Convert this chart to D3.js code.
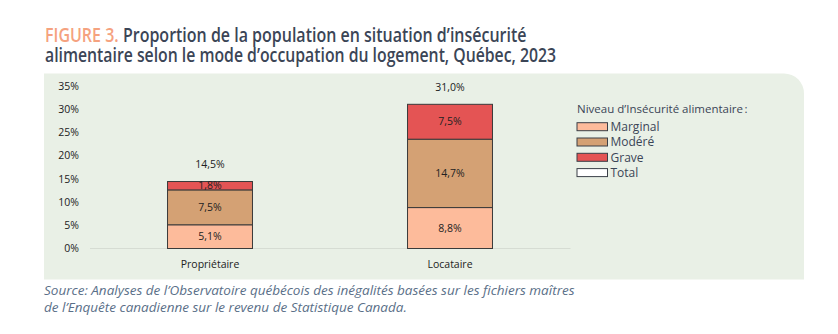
<!DOCTYPE html>
<html lang="fr">
<head>
<meta charset="utf-8">
<script src="https://cdn.jsdelivr.net/npm/d3@7"></script>
<style>
  html, body { margin: 0; padding: 0; background: #ffffff; }
  svg { display: block; }
</style>
</head>
<body>
<svg id="chart" width="838" height="334"></svg>
<script>
// Mode d'occupation du logement
const categories = ["Propriétaire", "Locataire"];
// Proportions (%) par niveau d'insécurité alimentaire
const marginal = [5.1, 8.8];
const modere = [7.5, 14.7];
const grave = [1.8, 7.5];
const total = [14.5, 31.0];
const yTicks = [0, 5, 10, 15, 20, 25, 30, 35];

const seriesNames = ["Marginal", "Modéré", "Grave"];
const seriesValues = [marginal, modere, grave];
const seriesColors = ["#FDBB9B", "#D4A174", "#E45454"];

const svg = d3.select("#chart");
const fmt = v => d3.format(".1f")(v).replace(".", ",") + "%";

// Panel background with rounded top-right corner
const px0 = 44, py0 = 73.5, px1 = 804, py1 = 279.5, r = 20;
svg.append("path")
  .attr("d", `M${px0},${py0} H${px1 - r} A${r},${r} 0 0 1 ${px1},${py0 + r} V${py1} H${px0} Z`)
  .attr("fill", "#E9F0E6");

// Horizontal fit of a text line to a given width
function fitLine(sel, x, y, width) {
  const w = sel.node().getComputedTextLength();
  sel.attr("transform", `translate(${x},${y}) scale(${width / w},1)`);
  return width / w;
}
const titleFont = "'Open Sans', 'Noto Sans', sans-serif";
const titleText = (txt, color) => svg.append("text")
  .attr("font-family", titleFont).attr("font-size", 19).attr("font-weight", 600)
  .attr("fill", color).text(txt);

// Title line 1: coloured figure number followed by the heading
const tA = titleText("FIGURE 3.", "#F5A27F");
const tB = titleText("\u00A0Proportion de la population en situation d\u2019insécurité", "#3B4556");
const wA = tA.node().getComputedTextLength();
const wB = tB.node().getComputedTextLength();
const k1 = 482 / (wA + wB);
tA.attr("transform", `translate(45,41.5) scale(${k1},1)`);
tB.attr("transform", `translate(${45 + wA * k1},41.5) scale(${k1},1)`);
// Title line 2
const t2 = titleText("alimentaire selon le mode d\u2019occupation du logement, Québec, 2023", "#3B4556");
fitLine(t2, 45, 61.5, 511.5);

// Scales
const x = d3.scaleBand().domain(categories).range([90, 570]).paddingInner(0.646).paddingOuter(0.323);
const y = d3.scaleLinear().domain([0, 35]).range([248.5, 85.7]);

const axisFont = "'Open Sans', 'Noto Sans', sans-serif";

// Y axis labels
const yAxis = svg.append("g").attr("transform", "translate(79,0)")
  .call(d3.axisLeft(y).tickValues(yTicks).tickSize(0).tickPadding(0).tickFormat(d => d + "%"));
yAxis.select(".domain").remove();
yAxis.selectAll("text").attr("font-family", axisFont).attr("font-size", 10.5).attr("fill", "#222");

// Baseline
svg.append("line")
  .attr("x1", 90).attr("x2", 570.5)
  .attr("y1", y(0)).attr("y2", y(0))
  .attr("stroke", "#D6DCD3").attr("stroke-width", 1);

// X axis labels
const xAxis = svg.append("g").attr("transform", `translate(0,${y(0)})`)
  .call(d3.axisBottom(x).tickSize(0).tickPadding(12));
xAxis.select(".domain").remove();
xAxis.selectAll("text").attr("font-family", axisFont).attr("font-size", 10.5).attr("fill", "#222");

// Stacked data
const rows = categories.map((c, i) => {
  const o = { cat: c };
  seriesNames.forEach((s, k) => o[s] = seriesValues[k][i]);
  return o;
});
const stacked = d3.stack().keys(seriesNames)(rows);

const layers = svg.append("g").selectAll("g").data(stacked).join("g")
  .attr("fill", (d, i) => seriesColors[i]);
layers.selectAll("rect").data(d => d).join("rect")
  .attr("x", d => x(d.data.cat))
  .attr("width", x.bandwidth())
  .attr("y", d => y(d[1]))
  .attr("height", d => y(d[0]) - y(d[1]))
  .attr("stroke", "#3A3A3A").attr("stroke-width", 1);

// Segment labels
layers.selectAll("text").data(d => d).join("text")
  .attr("x", d => x(d.data.cat) + x.bandwidth() / 2)
  .attr("y", d => (y(d[0]) + y(d[1])) / 2)
  .attr("dy", "0.35em")
  .attr("text-anchor", "middle")
  .attr("font-family", axisFont).attr("font-size", 10.5).attr("fill", "#222")
  .text(d => fmt(d[1] - d[0]));

// Total labels
svg.append("g").selectAll("text").data(categories).join("text")
  .attr("x", c => x(c) + x.bandwidth() / 2)
  .attr("y", (c, i) => y(total[i]) - 16.5)
  .attr("dy", "0.35em")
  .attr("text-anchor", "middle")
  .attr("font-family", axisFont).attr("font-size", 10.5).attr("fill", "#222")
  .text((c, i) => fmt(total[i]));

// Legend
const legendFont = "'Open Sans', 'Noto Sans', sans-serif";
const lg = svg.append("g").attr("transform", "translate(577,0)");
lg.append("text")
  .attr("x", 0).attr("y", 109).attr("dy", "0.35em")
  .attr("font-family", legendFont).attr("font-size", 11.5).attr("fill", "#3B4556")
  .text("Niveau d\u2019Insécurité alimentaire\u202F:");
const legendItems = seriesNames.map((s, i) => ({ name: s, color: seriesColors[i] }))
  .concat([{ name: "Total", color: "#FFFFFF" }]);
const li = lg.selectAll("g.item").data(legendItems).join("g")
  .attr("class", "item")
  .attr("transform", (d, i) => `translate(0,${126.7 + i * 15.3})`);
li.append("rect")
  .attr("x", 0).attr("y", -4).attr("width", 30.5).attr("height", 8)
  .attr("fill", d => d.color).attr("stroke", "#3A3F47").attr("stroke-width", 1);
li.append("text")
  .attr("x", 33.5).attr("y", 0).attr("dy", "0.35em")
  .attr("font-family", legendFont).attr("font-size", 12).attr("fill", "#3B4556")
  .text(d => d.name);

// Source
const srcFont = "'Open Sans', 'Noto Sans', sans-serif";
const srcText = txt => svg.append("text")
  .attr("font-family", srcFont).attr("font-size", 13.5).attr("font-style", "italic").attr("font-weight", 400)
  .attr("fill", "#5A6F88").text(txt);
const s1 = srcText("Source: Analyses de l\u2019Observatoire québécois des inégalités basées sur les fichiers maîtres");
const ks = fitLine(s1, 44, 294.5, 531);
const s2 = srcText("de l\u2019Enquête canadienne sur le revenu de Statistique Canada.");
s2.attr("transform", `translate(44,312) scale(${ks},1)`);
</script>
</body>
</html>
